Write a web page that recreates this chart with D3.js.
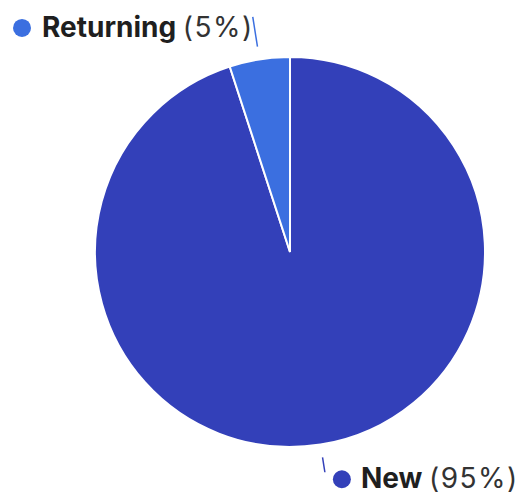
<!DOCTYPE html>
<html>
<head>
<meta charset="utf-8">
<script src="https://cdn.jsdelivr.net/npm/d3@7/dist/d3.min.js"></script>
<style>
  html, body { margin: 0; padding: 0; background: #fff; }
  svg text { font-family: Inter, "Noto Sans", sans-serif; }
</style>
</head>
<body>
<svg id="chart" width="519" height="495"></svg>
<script>
// Visitor split
const categories = ["New", "Returning"];
const shares = [95, 5];
const colors = ["#3340b9", "#3b6fe0"];

const width = 519, height = 495;
const cx = 290, cy = 252, radius = 195;

const svg = d3.select("#chart");
const g = svg.append("g").attr("transform", `translate(${cx},${cy})`);

const data = categories.map((c, i) => ({ name: c, value: shares[i], color: colors[i] }));

// New runs clockwise from 12 o'clock; Returning fills the remaining wedge
const pie = d3.pie().value(d => d.value).sort(null);
const arcs = pie(data);
const arc = d3.arc().innerRadius(0).outerRadius(radius);

g.selectAll("path.slice")
  .data(arcs)
  .join("path")
  .attr("class", "slice")
  .attr("d", arc)
  .attr("fill", d => d.data.color)
  .attr("stroke", "#fff")
  .attr("stroke-width", 2);

// Point at distance r from the centre along a slice's mid-angle
function pt(r, d) {
  const m = (d.startAngle + d.endAngle) / 2;
  return [Math.sin(m) * r, -Math.cos(m) * r];
}

arcs.forEach(d => {
  const isNew = d.data.name === "New";
  const p1 = pt(radius + 13, d);
  const p2 = pt(radius + (isNew ? 28 : 43), d);
  g.append("line")
    .attr("x1", p1[0]).attr("y1", p1[1])
    .attr("x2", p2[0]).attr("y2", p2[1])
    .attr("stroke", d.data.color)
    .attr("stroke-width", 1.5);

  const lab = g.append("g");
  const fs = 28;
  const t = lab.append("text")
    .attr("font-size", fs)
    .attr("fill", "#1f1f1f")
    .attr("dy", "0.36em");
  t.append("tspan").attr("font-weight", 700).text(d.data.name + " ");
  t.append("tspan").attr("font-weight", 400).attr("fill", "#333")
    .attr("letter-spacing", 1.5)
    .text(`(${d.data.value}%)`);

  const dotR = 9;
  if (isNew) {
    const x0 = p2[0] + 17, y0 = p2[1] + 7;
    lab.append("circle").attr("cx", x0).attr("cy", y0).attr("r", dotR).attr("fill", d.data.color);
    t.attr("x", x0 + 19).attr("y", y0 - 1);
  } else {
    const xEnd = p2[0] + 1, y0 = p2[1] + 11;
    t.attr("x", xEnd).attr("y", y0 - 1).attr("text-anchor", "end");
    const w = t.node().getComputedTextLength();
    lab.append("circle").attr("cx", xEnd - w - 20).attr("cy", y0).attr("r", dotR).attr("fill", d.data.color);
  }
});
</script>
</body>
</html>
